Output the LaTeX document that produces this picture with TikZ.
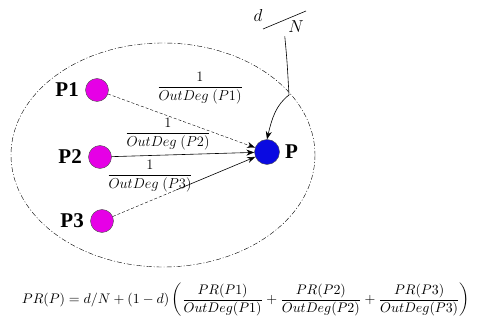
\documentclass[tikz,border=0pt]{standalone}
\usepackage{amsmath}
\usepackage{graphicx}
\usepackage{fontspec}
\setmainfont{Liberation Serif}
\usetikzlibrary{arrows.meta,positioning,calc}
\definecolor{page}{RGB}{230,0,230}
\definecolor{target}{RGB}{10,10,225}

\begin{document}
\begin{tikzpicture}[x=1pt,y=-1pt,>={Stealth[length=8pt,width=6pt]}]
\useasboundingbox (0,0) rectangle (477,323);
% outer boundary of the web
\draw[thin,dash pattern=on 5pt off 2pt on 1pt off 2pt] (163,155) ellipse (152 and 112);
% pages
\node[circle,draw=black!70,fill=page,minimum size=23pt,inner sep=0pt] (p1) at (97,90) {};
\node[circle,draw=black!70,fill=page,minimum size=23pt,inner sep=0pt] (p2) at (100,157) {};
\node[circle,draw=black!70,fill=page,minimum size=23pt,inner sep=0pt] (p3) at (102,221) {};
\node[circle,draw=black!70,fill=target,minimum size=25pt,inner sep=0pt] (p) at (267,152) {};
\node[left=3pt of p1,font=\fontsize{21}{24}\selectfont\bfseries] {P1};
\node[left=3pt of p2,font=\fontsize{21}{24}\selectfont\bfseries] {P2};
\node[left=3pt of p3,font=\fontsize{21}{24}\selectfont\bfseries] {P3};
\node[right=2pt of p,font=\fontsize{21}{24}\selectfont\bfseries] {P};
% links
\draw[->,densely dashed] (p1) -- (p);
\draw[->,semithick] (p2) -- (p);
\coordinate (m3) at ($(p3)!0.45!(p)$);
\draw[densely dashed] (p3) -- (m3);
\draw[->,semithick] (m3) -- (p);
% link weights
\node[font=\fontsize{15}{17}\selectfont,inner sep=0pt] (w1) at (200,88) {$\dfrac{1}{OutDeg\ (P1)}$};
\node[font=\fontsize{15}{17}\selectfont,inner sep=0pt] (w2) at (168,134) {$\dfrac{1}{OutDeg\ (P2)}$};
\node[font=\fontsize{15}{17}\selectfont,inner sep=0pt] (w3) at (150,176) {$\dfrac{1}{OutDeg\ (P3)}$};
% random jump d/N
\node[font=\fontsize{17}{19}\selectfont] (dd) at (258,16) {$d$};
\node[font=\fontsize{17}{19}\selectfont] (nn) at (296,27) {$N$};
\coordinate (s1) at (263,29);
\coordinate (s2) at (306,11);
\draw[semithick] (s1) -- (s2);
\coordinate (k) at (289,95);
\draw[->,semithick] (nn.south west) .. controls (287,60) .. (k) .. controls (276,105) and (272,118) .. (p.north);
% formula
\node (pr) at (246,300) {\resizebox{448pt}{!}{$PR(P)=d/N+(1-d)\left(\dfrac{PR(P1)}{OutDeg(P1)}+\dfrac{PR(P2)}{OutDeg(P2)}+\dfrac{PR(P3)}{OutDeg(P3)}\right)$}};
\end{tikzpicture}
\end{document}
